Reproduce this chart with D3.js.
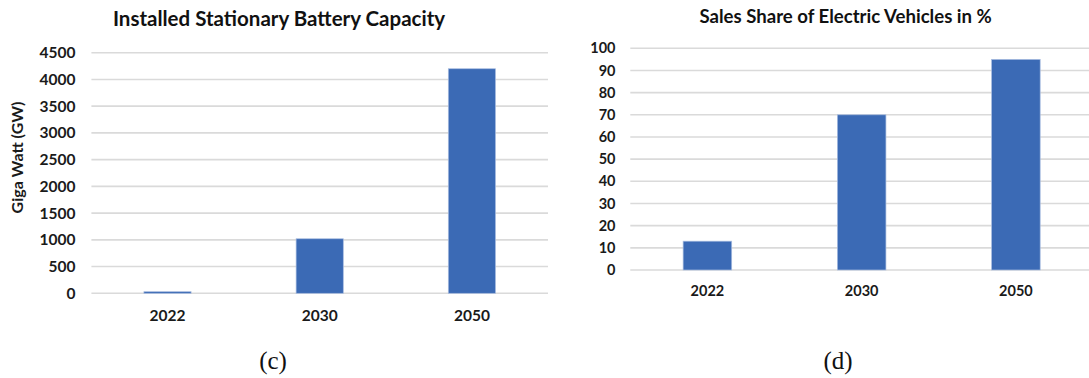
<!DOCTYPE html>
<html>
<head>
<meta charset="utf-8">
<script src="https://cdn.jsdelivr.net/npm/d3@7"></script>
<style>
  html, body { margin: 0; padding: 0; background: #ffffff; }
  svg { display: block; }
</style>
</head>
<body>
<svg id="chart" width="1089" height="378"></svg>
<script>
// Panel (c): installed stationary battery capacity
const years = ["2022", "2030", "2050"];
const batteryGW = [30, 1020, 4200];
const batteryTicks = [0, 500, 1000, 1500, 2000, 2500, 3000, 3500, 4000, 4500];

// Panel (d): sales share of electric vehicles
const evSharePct = [13, 70, 95];
const evTicks = [0, 10, 20, 30, 40, 50, 60, 70, 80, 90, 100];

const BAR = "#3b6ab5";
const GRID = "#dadada";
const SANS = "Lato, 'Open Sans', sans-serif";
const SERIF = "'Liberation Serif', 'Times New Roman', serif";

const svg = d3.select("#chart");

function panel(cfg) {
  const g = svg.append("g");
  const x = d3.scaleBand().domain(cfg.categories).range([cfg.x0, cfg.x1]).padding(0);
  const y = d3.scaleLinear().domain([0, cfg.max]).range([cfg.y0, cfg.y1]);
  const barW = x.bandwidth() * cfg.barFrac;

  // horizontal gridlines
  g.append("g").selectAll("line").data(cfg.ticks).join("line")
    .attr("x1", cfg.x0).attr("x2", cfg.gridEnd)
    .attr("y1", d => y(d)).attr("y2", d => y(d))
    .attr("stroke", GRID).attr("stroke-width", 1.6);

  // y axis labels
  const yAxis = d3.axisLeft(y).tickValues(cfg.ticks).tickFormat(d3.format("d"))
    .tickSize(0).tickPadding(0);
  const ya = g.append("g").attr("transform", `translate(${cfg.yLabelX},0)`).call(yAxis);
  ya.select(".domain").remove();
  ya.selectAll("text")
    .attr("font-family", SANS).attr("font-weight", "bold")
    .attr("font-size", cfg.tickSize).attr("fill", "#1a1a1a");

  // bars
  g.append("g").selectAll("rect").data(cfg.values).join("rect")
    .attr("x", (d, i) => x(cfg.categories[i]) + (x.bandwidth() - barW) / 2)
    .attr("width", barW)
    .attr("y", d => y(d))
    .attr("height", d => y(0) - y(d))
    .attr("fill", BAR)
    .attr("stroke", "#a9bde0").attr("stroke-width", 0.7);

  // x axis labels
  const xAxis = d3.axisBottom(x).tickSize(0).tickPadding(0);
  const xa = g.append("g").attr("transform", `translate(0,${cfg.xLabelY})`).call(xAxis);
  xa.select(".domain").remove();
  xa.selectAll("text")
    .attr("dy", 0)
    .attr("font-family", SANS).attr("font-weight", "bold")
    .attr("font-size", cfg.tickSize).attr("fill", "#1a1a1a");

  // title
  g.append("text")
    .attr("x", cfg.titleX).attr("y", cfg.titleY)
    .attr("text-anchor", "middle")
    .attr("font-family", SANS).attr("font-weight", "bold")
    .attr("font-size", cfg.titleSize).attr("fill", "#111")
    .text(cfg.title);

  // y axis title
  if (cfg.yTitle) {
    g.append("text")
      .attr("transform", `translate(${cfg.yTitleX},${cfg.yTitleY}) rotate(-90)`)
      .attr("text-anchor", "middle")
      .attr("font-family", SANS).attr("font-weight", "bold")
      .attr("font-size", 16).attr("fill", "#1a1a1a")
      .text(cfg.yTitle);
  }

  // panel caption
  g.append("text")
    .attr("x", cfg.capX).attr("y", cfg.capY)
    .attr("text-anchor", "middle")
    .attr("font-family", SERIF).attr("font-size", 25).attr("fill", "#111")
    .text(cfg.caption);
}

panel({
  categories: years, values: batteryGW, ticks: batteryTicks, max: 4500,
  x0: 91.4, x1: 548, gridEnd: 548, y0: 293.3, y1: 52.7, barFrac: 0.31,
  yLabelX: 75.5, xLabelY: 321, tickSize: 15.5,
  title: "Installed Stationary Battery Capacity", titleX: 279, titleY: 26, titleSize: 20.5,
  yTitle: "Giga Watt (GW)", yTitleX: 23, yTitleY: 157.5,
  caption: "(c)", capX: 273, capY: 369
});

panel({
  categories: years, values: evSharePct, ticks: evTicks, max: 100,
  x0: 630.3, x1: 1093, gridEnd: 1089, y0: 270, y1: 48.3, barFrac: 0.315,
  yLabelX: 615.5, xLabelY: 296, tickSize: 14.5,
  title: "Sales Share of Electric Vehicles in %", titleX: 845.6, titleY: 23, titleSize: 18.6,
  caption: "(d)", capX: 838, capY: 369
});
</script>
</body>
</html>
